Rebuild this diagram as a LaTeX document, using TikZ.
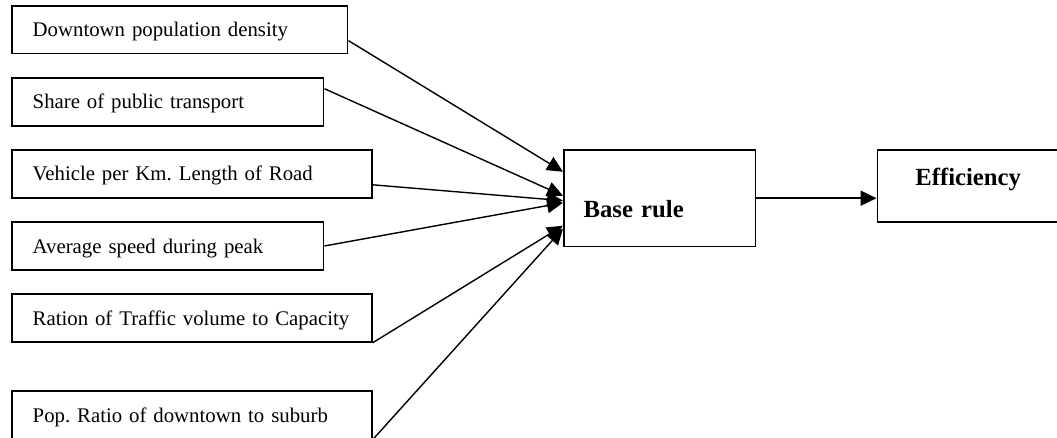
\documentclass[tikz,border=0pt]{standalone}
\usepackage{fontspec}
\setmainfont{Liberation Serif}
\usetikzlibrary{arrows.meta, positioning}

\begin{document}
\frenchspacing
\begin{tikzpicture}[
    node distance=12.8pt,
    every node/.style={font=\fontsize{11.8}{14}\selectfont},
    factor/.style={
        draw,
        line width=0.9pt,
        minimum height=27.2pt,
        inner xsep=11.9pt,
        inner ysep=0pt,
        text height=8pt,
        text depth=0pt,
        align=left
    },
    bigbox/.style={
        draw,
        line width=0.9pt,
        inner xsep=11.3pt,
        inner ysep=0pt,
        align=left,
        font=\fontsize{14}{16}\selectfont\bfseries
    },
    arrow/.style={
        -{Triangle[length=9pt, width=8.5pt]},
        line width=0.8pt
    }
]
\useasboundingbox (0,0) rectangle (599.7pt,-248pt);

% input factors
\node[factor, text width=166.8pt, anchor=north west] (density) at (6.2pt,-2.8pt) {Downtown population density};
\node[factor, text width=153.2pt, below=of density.south west, anchor=north west] (share) {Share of public transport};
\node[factor, text width=180.5pt, below=of share.south west, anchor=north west] (vehicle) {Vehicle per Km. Length of Road};
\node[factor, text width=153.2pt, below=of vehicle.south west, anchor=north west] (speed) {Average speed during peak};
\node[factor, text width=180.5pt, below=of speed.south west, anchor=north west] (ratio) {Ration of Traffic volume to Capacity};
\node[factor, text width=180.5pt, below=26.9pt of ratio.south west, anchor=north west] (pop) {Pop. Ratio of downtown to suburb};

% rule and output
\node[bigbox, text width=86.3pt, minimum height=55pt, text height=22.2pt, text depth=0pt, anchor=north west] (base) at (319.4pt,-84.5pt) {Base rule};
\node[bigbox, inner xsep=21.6pt, text width=150pt, minimum height=40.9pt, text height=6pt, text depth=6pt, right=68.1pt of base.north east, anchor=north west] (eff) {Efficiency};

\draw[arrow] ([yshift=-6.2pt]density.east) -- ([yshift=15pt]base.west);
\draw[arrow] ([yshift=7.4pt]share.east) -- ([yshift=1.4pt]base.west);
\draw[arrow] ([yshift=-6.2pt]vehicle.east) -- ([yshift=-1.4pt]base.west);
\draw[arrow] (speed.east) -- ([yshift=-2.6pt]base.west);
\draw[arrow] (ratio.south east) -- ([yshift=-15.6pt]base.west);
\draw[arrow] (pop.south east) -- ([yshift=-17.3pt]base.west);
\draw[arrow] (base.east) -- (base.east -| eff.west);

\end{tikzpicture}
\end{document}
